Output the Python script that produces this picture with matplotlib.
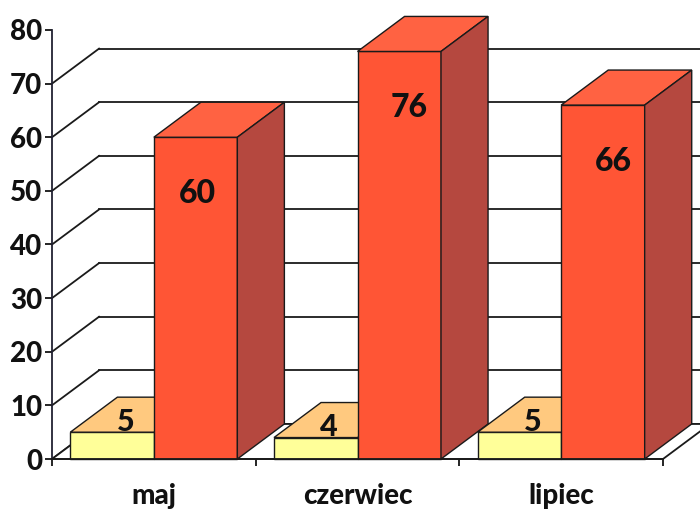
import matplotlib
matplotlib.use("Agg")
import matplotlib.pyplot as plt
from matplotlib.patches import Polygon

plt.rcParams['font.family'] = ['Lato', 'DejaVu Sans']

# data
months = ['maj', 'czerwiec', 'lipiec']
small_vals = [5, 4, 5]
big_vals = [60, 76, 66]
y_ticks = [0, 10, 20, 30, 40, 50, 60, 70, 80]

# look
yellow_front = '#FFFF99'
yellow_top = '#FFC97F'
red_front = '#FF5535'
red_top = '#FF6242'
red_side = '#B5483F'
edge = '#1a1a1a'
txt = '#111111'
weight = 'black'

bar_w = 0.41
gap = 0.09
dx = 0.231   # depth offset along x (category units)
dy = 6.53    # depth offset along y (value units)

fig = plt.figure(figsize=(7, 5.09), dpi=100)
ax = fig.add_axes([52 / 700, 50 / 509, 611 / 700, 429 / 509])
ax.set_xlim(0, 3)
ax.set_ylim(0, 80)
ax.patch.set_visible(False)


def box(x0, w, h, front, top, side=None, z=3):
    ax.add_patch(Polygon([(x0, 0), (x0 + w, 0), (x0 + w, h), (x0, h)],
                         closed=True, fc=front, ec=edge, lw=1.0, zorder=z, clip_on=False))
    ax.add_patch(Polygon([(x0, h), (x0 + w, h), (x0 + w + dx, h + dy), (x0 + dx, h + dy)],
                         closed=True, fc=top, ec=edge, lw=1.0, zorder=z, clip_on=False))
    if side is not None:
        ax.add_patch(Polygon([(x0 + w, 0), (x0 + w + dx, dy), (x0 + w + dx, h + dy), (x0 + w, h)],
                             closed=True, fc=side, ec=edge, lw=1.0, zorder=z, clip_on=False))


# walls: back wall gridlines and left wall diagonals
for v in y_ticks[:-1]:
    ax.plot([dx, 3.5], [v + dy, v + dy], color=edge, lw=1.3, zorder=1, clip_on=False)
    ax.plot([0, dx], [v, v + dy], color=edge, lw=1.3, zorder=1, clip_on=False)

# floor
ax.add_patch(Polygon([(0, 0), (3, 0), (3 + dx, dy), (dx, dy)], closed=True,
                     fc='white', ec=edge, lw=1.3, zorder=2, clip_on=False))

z = 3
for i, m in enumerate(months):
    x_small = i + gap
    x_big = x_small + bar_w
    box(x_small, bar_w, small_vals[i], yellow_front, yellow_top, None, z)
    z += 1
    box(x_big, bar_w, big_vals[i], red_front, red_top, red_side, z)
    z += 1
    ax.text(x_small + bar_w / 2 + 0.065, small_vals[i] + 0.2, str(small_vals[i]),
            ha='center', va='baseline', fontsize=22, fontweight=weight,
            color=txt, zorder=50)
    ax.text(x_big + bar_w / 2 + (0.01 if i == 0 else 0.05), big_vals[i] - 10.5, str(big_vals[i]),
            ha='center', va='center', fontsize=23, fontweight=weight,
            color=txt, zorder=50)

# axes
for s in ['top', 'right']:
    ax.spines[s].set_visible(False)
ax.spines['left'].set_color('#222233')
ax.spines['left'].set_linewidth(1.3)
ax.spines['bottom'].set_color(edge)
ax.spines['bottom'].set_linewidth(1.3)
ax.spines['left'].set_zorder(60)
ax.spines['bottom'].set_zorder(60)

ax.set_yticks(y_ticks)
ax.set_yticklabels([str(v) for v in y_ticks], fontsize=20, fontweight=weight, color=txt)
ax.tick_params(axis='y', direction='out', length=5, width=1.2, pad=2)

ax.set_xticks([0, 1, 2, 3])
ax.set_xticklabels([])
ax.set_xticks([i + 0.5 for i in range(len(months))], minor=True)
ax.set_xticklabels(months, minor=True, fontsize=20, fontweight=weight, color=txt)
ax.tick_params(axis='x', which='major', direction='out', length=5, width=1.2)
ax.tick_params(axis='x', which='minor', length=0, pad=17)

fig.savefig('out.png', dpi=100)
